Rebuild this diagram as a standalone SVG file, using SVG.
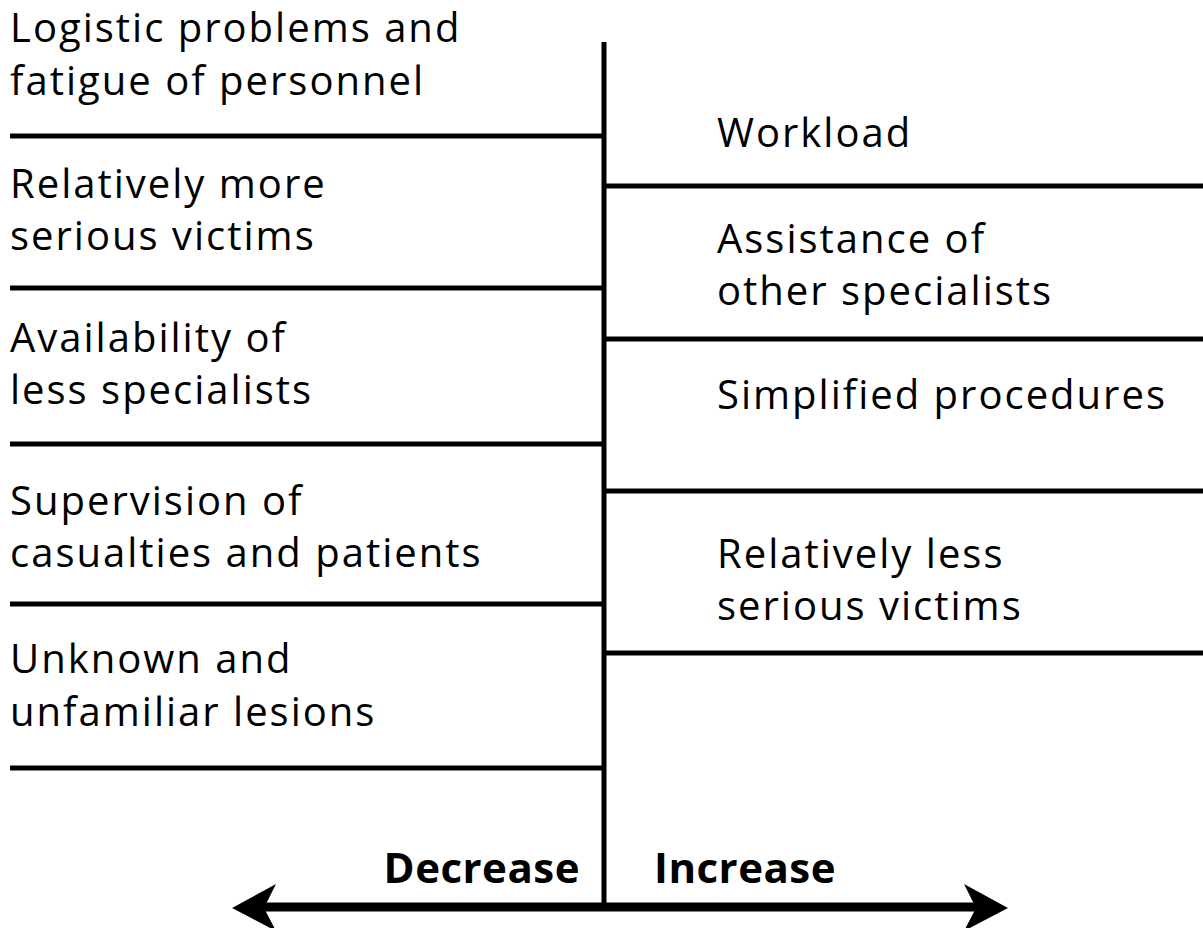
<svg xmlns="http://www.w3.org/2000/svg" width="1203" height="928" viewBox="0 0 1203 928">
<style>
.t{font-family:"Open Sans","Liberation Sans",sans-serif;font-size:40px;letter-spacing:2px;fill:#000}
.b{font-family:"Open Sans","Liberation Sans",sans-serif;font-size:42px;font-weight:bold;letter-spacing:0.5px;fill:#000}
.ln{stroke:#000;stroke-width:5;fill:none}
</style>
<rect width="1203" height="928" fill="#fff"/>
<g id="connectors">
<line class="ln" x1="604" y1="42" x2="604" y2="905"/>
<line class="ln" x1="10" y1="136" x2="604" y2="136"/>
<line class="ln" x1="10" y1="288" x2="604" y2="288"/>
<line class="ln" x1="10" y1="444" x2="604" y2="444"/>
<line class="ln" x1="10" y1="604" x2="604" y2="604"/>
<line class="ln" x1="10" y1="768" x2="604" y2="768"/>
<line class="ln" x1="604" y1="186" x2="1203" y2="186"/>
<line class="ln" x1="604" y1="339" x2="1203" y2="339"/>
<line class="ln" x1="604" y1="491" x2="1203" y2="491"/>
<line class="ln" x1="604" y1="653" x2="1203" y2="653"/>
<line x1="260" y1="907" x2="980" y2="907" stroke="#000" stroke-width="9"/>
<polygon points="232,908 276,884 264,908 276,931" fill="#000"/>
<polygon points="1008,908 964,884 976,908 964,931" fill="#000"/>
</g>
<g id="left1"><text class="t" x="10" y="42">Logistic problems and</text><text class="t" x="10" y="95">fatigue of personnel</text></g>
<g id="left2"><text class="t" x="10" y="198">Relatively more</text><text class="t" x="10" y="250">serious victims</text></g>
<g id="left3"><text class="t" x="10" y="352">Availability of</text><text class="t" x="10" y="404">less specialists</text></g>
<g id="left4"><text class="t" x="10" y="515">Supervision of</text><text class="t" x="10" y="567">casualties and patients</text></g>
<g id="left5"><text class="t" x="10" y="673">Unknown and</text><text class="t" x="10" y="726">unfamiliar lesions</text></g>
<g id="right1"><text class="t" x="717" y="147">Workload</text></g>
<g id="right2"><text class="t" x="717" y="253">Assistance of</text><text class="t" x="717" y="305">other specialists</text></g>
<g id="right3"><text class="t" x="717" y="409">Simplified procedures</text></g>
<g id="right4"><text class="t" x="717" y="568">Relatively less</text><text class="t" x="717" y="620">serious victims</text></g>
<g id="axis"><text class="b" x="580" y="883" text-anchor="end">Decrease</text><text class="b" x="654" y="883">Increase</text></g>
</svg>
